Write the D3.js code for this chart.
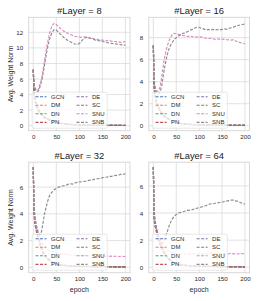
<!DOCTYPE html>
<html><head><meta charset="utf-8">
<script src="https://cdn.jsdelivr.net/npm/d3@7"></script>
<style>body{margin:0;background:#fff;} text{font-family:"Liberation Sans",Arial,sans-serif;}</style>
</head><body><svg id="c" width="258" height="301"></svg>
<script>
const seriesNames = ["GCN","DM","DN","PN","DE","SC","SNU","SNB"];
const colors = ["#4C72B0","#DD8452","#55A868","#C44E52","#8172B3","#937860","#DA8BC3","#8C8C8C"];
const layerTitles = ["#Layer = 8","#Layer = 16","#Layer = 32","#Layer = 64"];
const xTicks = [0,50,100,150,200];
const yTicksL8 = [0,2,4,6,8,10,12];
const yTicksL16 = [0,2,4,6,8];
const yTicksL32 = [0,2,4,6];
const yTicksL64 = [0,2,4,6];

// epochs for the fast-decaying baselines
const decayEpochs = [0,1,2,3,5,7,10,15,20,25,30,40,50,60,80,100,125,150,175,200];
// epochs for SNU / SNB
const epochs = [0,1,2,3,5,7,10,12,15,18,20,25,30,35,40,45,50,55,60,65,70,75,80,85,90,95,100,105,110,115,120,125,130,135,140,145,150,155,160,165,170,175,180,185,190,195,200];

// #Layer = 8
const gcnL8 = [7.2,5.1,4.1,3.5,2.9,2.5,2.1,1.55,1.25,1.0,0.85,0.6,0.42,0.3,0.16,0.1,0.07,0.05,0.04,0.03];
const dmL8  = [7.2,5.3,4.3,3.7,3.1,2.7,2.25,1.65,1.35,1.1,0.92,0.66,0.46,0.33,0.18,0.11,0.07,0.05,0.04,0.04];
const dnL8  = [7.2,5.2,4.2,3.6,3.0,2.6,2.2,1.6,1.3,1.05,0.9,0.65,0.45,0.32,0.17,0.1,0.07,0.05,0.04,0.04];
const pnL8  = [7.2,5.0,4.0,3.4,2.8,2.4,2.0,1.5,1.2,0.98,0.82,0.58,0.4,0.28,0.15,0.09,0.06,0.05,0.04,0.03];
const deL8  = [7.2,5.2,4.25,3.65,3.05,2.65,2.2,1.62,1.32,1.06,0.9,0.64,0.45,0.32,0.17,0.1,0.07,0.05,0.04,0.04];
const scL8  = [7.2,5.4,4.4,3.8,3.2,2.8,2.3,1.7,1.4,1.12,0.95,0.68,0.48,0.34,0.19,0.12,0.08,0.06,0.05,0.04];
const snuL8 = [7.2,6.0,5.3,5.0,4.7,4.5,4.5,4.9,5.4,6.0,6.7,8.6,10.4,11.8,12.8,13.15,13.0,12.7,12.45,12.2,12.05,11.85,11.75,11.6,11.5,11.45,11.4,11.35,11.42,11.4,11.3,11.28,11.2,11.12,11.1,11.02,11.0,10.95,10.92,10.95,10.85,10.82,10.8,10.74,10.7,10.76,10.8];
const snbL8 = [7.2,6.0,5.3,4.9,4.6,4.4,4.4,4.6,5.1,5.7,6.3,8.0,9.8,11.1,11.9,12.35,12.3,12.0,11.7,11.4,11.15,10.95,10.8,10.65,10.5,10.45,10.55,10.9,11.2,11.35,11.3,11.2,11.12,11.0,10.95,10.9,10.82,10.75,10.7,10.62,10.58,10.52,10.5,10.45,10.42,10.36,10.35];

// #Layer = 16
const gcnL16 = [7.3,4.4,3.4,2.9,2.4,2.05,1.75,1.3,1.0,0.82,0.68,0.44,0.29,0.2,0.12,0.08,0.06,0.05,0.04,0.04];
const dmL16  = [7.3,4.6,3.6,3.1,2.6,2.2,1.85,1.4,1.1,0.88,0.72,0.47,0.31,0.21,0.13,0.09,0.06,0.05,0.04,0.04];
const dnL16  = [7.3,4.5,3.5,3.0,2.5,2.1,1.8,1.35,1.05,0.85,0.7,0.45,0.3,0.2,0.12,0.08,0.06,0.05,0.04,0.04];
const pnL16  = [7.3,4.3,3.3,2.8,2.35,2.0,1.7,1.28,0.98,0.8,0.66,0.42,0.28,0.19,0.11,0.08,0.06,0.05,0.04,0.03];
const deL16  = [7.3,4.5,3.55,3.05,2.55,2.15,1.82,1.36,1.06,0.86,0.7,0.46,0.3,0.2,0.12,0.08,0.06,0.05,0.04,0.04];
const scL16  = [7.3,4.7,3.7,3.2,2.65,2.25,1.9,1.42,1.12,0.9,0.74,0.48,0.32,0.22,0.13,0.09,0.07,0.05,0.05,0.04];
const snuL16 = [7.3,5.2,4.3,3.8,3.4,3.2,3.1,3.2,3.6,4.4,5.0,6.3,7.2,7.8,8.2,8.4,8.35,8.3,8.22,8.2,8.15,8.1,8.15,8.1,8.08,8.05,8.1,8.05,8.0,7.95,7.9,7.95,7.9,7.85,7.9,7.85,7.88,7.85,7.82,7.8,7.78,7.82,7.7,7.62,7.55,7.5,7.45];
const snbL16 = [7.3,5.0,4.0,3.5,3.2,3.0,2.9,2.9,3.1,3.6,4.1,5.4,6.4,7.1,7.5,7.8,8.0,8.15,8.3,8.4,8.45,8.55,8.68,8.75,8.85,8.95,8.95,8.85,8.8,8.7,8.75,8.7,8.75,8.7,8.74,8.7,8.75,8.8,8.76,8.85,8.9,8.95,9.05,9.1,9.15,9.2,9.25];

// #Layer = 32
const gcnL32 = [7.5,4.9,3.9,3.4,3.0,2.7,2.3,1.65,1.15,0.86,0.67,0.38,0.24,0.16,0.1,0.07,0.06,0.05,0.04,0.03];
const dmL32  = [7.5,5.1,4.1,3.6,3.2,2.9,2.5,1.75,1.25,0.94,0.73,0.42,0.26,0.18,0.11,0.08,0.06,0.05,0.04,0.04];
const dnL32  = [7.5,5.0,4.0,3.5,3.1,2.8,2.4,1.7,1.2,0.9,0.7,0.4,0.25,0.17,0.1,0.08,0.06,0.05,0.04,0.04];
const pnL32  = [7.5,4.8,3.8,3.3,2.95,2.65,2.25,1.6,1.12,0.84,0.65,0.37,0.23,0.16,0.1,0.07,0.05,0.05,0.04,0.03];
const deL32  = [7.5,5.0,4.05,3.55,3.12,2.82,2.42,1.72,1.22,0.91,0.71,0.41,0.25,0.17,0.1,0.08,0.06,0.05,0.04,0.04];
const scL32  = [7.5,5.2,4.2,3.7,3.25,2.95,2.55,1.8,1.28,0.96,0.75,0.43,0.27,0.18,0.11,0.08,0.06,0.05,0.05,0.04];
const snuL32 = [7.5,5.2,4.2,3.7,3.2,2.9,2.6,2.4,2.1,1.9,1.75,1.5,1.35,1.25,1.2,1.15,1.1,1.05,1.02,1.0,0.96,0.95,0.92,0.9,0.91,0.88,0.9,0.87,0.88,0.86,0.87,0.85,0.86,0.84,0.86,0.83,0.85,0.83,0.84,0.82,0.84,0.82,0.83,0.81,0.83,0.81,0.82];
const snbL32 = [7.5,5.5,4.5,4.0,3.5,3.1,2.7,2.5,2.4,2.7,3.1,4.1,4.8,5.35,5.6,5.8,5.9,6.0,6.05,6.1,6.12,6.2,6.25,6.22,6.3,6.35,6.38,6.4,6.42,6.45,6.5,6.52,6.55,6.6,6.62,6.65,6.7,6.72,6.75,6.8,6.8,6.85,6.88,6.9,6.95,6.95,7.0];

// #Layer = 64
const gcnL64 = [7.4,4.4,3.5,3.2,2.9,2.6,2.2,1.65,1.25,0.96,0.72,0.4,0.26,0.17,0.1,0.07,0.06,0.05,0.04,0.03];
const dmL64  = [7.4,4.6,3.7,3.4,3.1,2.8,2.4,1.75,1.35,1.04,0.78,0.44,0.28,0.19,0.11,0.08,0.06,0.05,0.04,0.04];
const dnL64  = [7.4,4.5,3.6,3.3,3.0,2.7,2.3,1.7,1.3,1.0,0.75,0.42,0.27,0.18,0.11,0.08,0.06,0.05,0.04,0.04];
const pnL64  = [7.4,4.3,3.4,3.1,2.85,2.55,2.15,1.6,1.22,0.94,0.7,0.39,0.25,0.17,0.1,0.07,0.05,0.05,0.04,0.03];
const deL64  = [7.4,4.5,3.65,3.35,3.02,2.72,2.32,1.72,1.32,1.01,0.76,0.43,0.27,0.18,0.11,0.08,0.06,0.05,0.04,0.04];
const scL64  = [7.4,4.7,3.8,3.45,3.15,2.85,2.45,1.8,1.38,1.06,0.8,0.45,0.29,0.19,0.12,0.08,0.06,0.05,0.05,0.04];
const snuL64 = [7.4,5.0,4.0,3.6,3.2,2.9,2.5,2.3,2.0,1.8,1.65,1.4,1.25,1.15,1.1,1.05,1.0,1.02,0.98,1.0,0.97,1.0,0.98,1.01,0.97,1.0,0.98,1.02,0.97,1.0,0.99,1.02,0.98,1.0,0.97,1.01,0.99,1.02,0.98,1.0,1.03,0.99,1.01,0.98,1.02,1.0,1.01];
const snbL64 = [7.4,5.2,4.2,3.7,3.2,2.8,2.4,2.2,1.95,1.8,1.8,2.1,2.6,3.1,3.5,3.75,3.9,4.0,4.05,4.1,4.15,4.2,4.22,4.25,4.3,4.35,4.4,4.45,4.5,4.55,4.62,4.68,4.7,4.72,4.75,4.78,4.8,4.85,4.88,4.92,4.95,4.95,4.9,4.85,4.78,4.72,4.65];

const panelData = [
  [gcnL8,dmL8,dnL8,pnL8,deL8,scL8,snuL8,snbL8],
  [gcnL16,dmL16,dnL16,pnL16,deL16,scL16,snuL16,snbL16],
  [gcnL32,dmL32,dnL32,pnL32,deL32,scL32,snuL32,snbL32],
  [gcnL64,dmL64,dnL64,pnL64,deL64,scL64,snuL64,snbL64]
];
const panelYTicks = [yTicksL8,yTicksL16,yTicksL32,yTicksL64];
const panelYDomains = [[-0.64,13.93],[-0.45,9.85],[-0.4,7.86],[-0.4,7.75]];

const svg = d3.select("#c");
const colX = [[28.7,130],[148.8,249.5]];
const rowY = [[17.3,130.7],[162.2,272.7]];
const gridColor = "#dadada";
const textColor = "#2a2a2a";

for (let p = 0; p < 4; p++) {
  const col = p % 2, row = Math.floor(p / 2);
  const [x0, x1] = colX[col];
  const [y0, y1] = rowY[row];
  const x = d3.scaleLinear().domain([-10, 210]).range([x0, x1]);
  const y = d3.scaleLinear().domain(panelYDomains[p]).range([y1, y0]);
  const g = svg.append("g");
  const clipId = "clip" + p;
  svg.append("clipPath").attr("id", clipId).append("rect")
    .attr("x", x0).attr("y", y0).attr("width", x1 - x0).attr("height", y1 - y0);

  // grid
  g.selectAll(".vg").data(xTicks).enter().append("line")
    .attr("x1", d => x(d)).attr("x2", d => x(d)).attr("y1", y0).attr("y2", y1)
    .attr("stroke", gridColor).attr("stroke-width", 0.8);
  g.selectAll(".hg").data(panelYTicks[p]).enter().append("line")
    .attr("x1", x0).attr("x2", x1).attr("y1", d => y(d)).attr("y2", d => y(d))
    .attr("stroke", gridColor).attr("stroke-width", 0.8);

  // lines
  const lg = g.append("g").attr("clip-path", `url(#${clipId})`);
  panelData[p].forEach((vals, i) => {
    const xs = i < 6 ? decayEpochs : epochs;
    const pts = vals.map((v, k) => [xs[k], v]);
    lg.append("path").datum(pts)
      .attr("d", d3.line().x(d => x(d[0])).y(d => y(d[1])))
      .attr("fill", "none").attr("stroke", colors[i]).attr("stroke-width", 1.15)
      .attr("stroke-dasharray", "3,1.5");
  });

  // frame
  g.append("rect").attr("x", x0).attr("y", y0).attr("width", x1 - x0).attr("height", y1 - y0)
    .attr("fill", "none").attr("stroke", "#d4d4d4").attr("stroke-width", 0.9);

  // axes
  const xAxis = d3.axisBottom(x).tickValues(xTicks).tickSize(0).tickPadding(0);
  const xg = g.append("g").attr("transform", `translate(0,${y1})`).call(xAxis);
  xg.select(".domain").remove();
  xg.selectAll("text").attr("y", 8.2).attr("dy", 0).attr("font-size", 6.2).attr("fill", textColor)
    .style("font-family", "'Liberation Sans', Arial, sans-serif");
  const yAxis = d3.axisLeft(y).tickValues(panelYTicks[p]).tickSize(0).tickPadding(0);
  const yg = g.append("g").attr("transform", `translate(${x0},0)`).call(yAxis);
  yg.select(".domain").remove();
  yg.selectAll("text").attr("x", -5.5).attr("dy", "0.34em").attr("font-size", 6.2).attr("fill", textColor)
    .style("font-family", "'Liberation Sans', Arial, sans-serif");

  // title
  g.append("text").attr("x", (x0 + x1) / 2).attr("y", y0 - 3)
    .attr("text-anchor", "middle").attr("font-size", 9.4).attr("fill", "#1a1a1a").text(layerTitles[p]);

  if (row === 1) {
    g.append("text").attr("x", (x0 + x1) / 2).attr("y", 291.5)
      .attr("text-anchor", "middle").attr("font-size", 7).attr("fill", textColor).text("epoch");
  }
  if (col === 0) {
    g.append("text").attr("transform", `translate(13,${(y0 + y1) / 2}) rotate(-90)`)
      .attr("text-anchor", "middle").attr("font-size", 7).attr("fill", textColor).text("Avg. Weight Norm");
  }

  // legend
  const lx = x0 + 3.5, lw = 75, lh = 36, ly = y1 - 2.5 - lh;
  const leg = g.append("g");
  leg.append("rect").attr("x", lx).attr("y", ly).attr("width", lw).attr("height", lh)
    .attr("rx", 1.5).attr("fill", "#fff").attr("fill-opacity", 0.8).attr("stroke", "#d8d8d8").attr("stroke-width", 0.6);
  seriesNames.forEach((name, i) => {
    const c = Math.floor(i / 4), r = i % 4;
    const ry = ly + 4.5 + r * 8.55;
    const cx = lx + 3.3 + c * 41;
    leg.append("line").attr("x1", cx).attr("x2", cx + 11).attr("y1", ry).attr("y2", ry)
      .attr("stroke", colors[i]).attr("stroke-width", 1.1).attr("stroke-dasharray", "3,1.5");
    leg.append("text").attr("x", cx + 15.5).attr("y", ry).attr("dy", "0.35em")
      .attr("font-size", 6).attr("fill", textColor).text(name);
  });
}
</script></body></html>
